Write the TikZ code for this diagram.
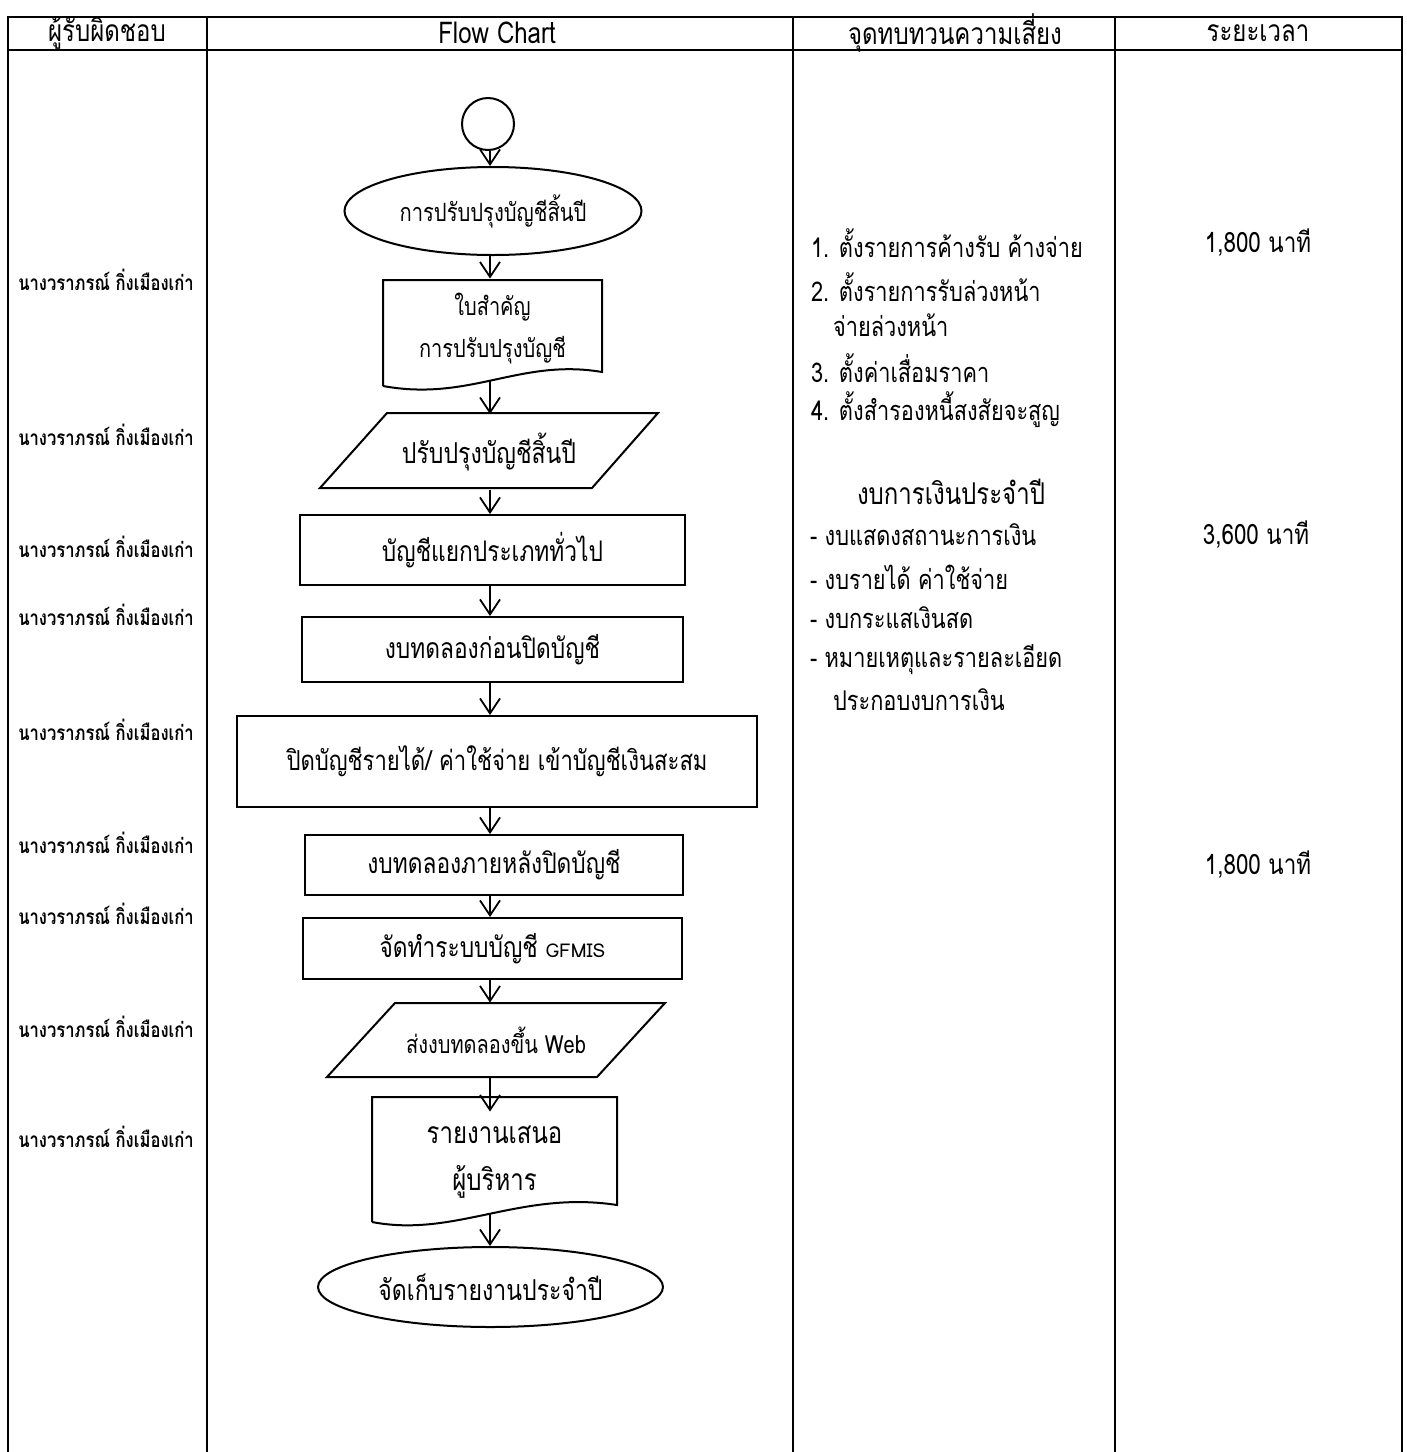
\documentclass[tikz,border=0pt]{standalone}
\usepackage{fontspec}
\setmainfont[Script=Thai,FakeStretch=0.8]{Loma}
\newfontfamily\plainfont[Script=Thai]{Loma}
\usetikzlibrary{arrows.meta,shapes.geometric}
\begin{document}
\begin{tikzpicture}[x=0.5pt,y=-0.5pt,
  tbl/.style={line width=1.2pt},
  shp/.style={draw,line width=1pt},
  procbox/.style={shp,rectangle,inner sep=0pt,font=\fontsize{14.2}{17}\selectfont},
  hidden/.style={rectangle,inner sep=0pt,align=center},
  arr/.style={line width=0.9pt,-{Straight Barb[length=7.5pt,width=10pt,line width=0.9pt]}},
  who/.style={font=\bfseries\fontsize{10.4}{12}\selectfont},
  hdr/.style={font=\fontsize{15}{18}\selectfont},
  risk/.style={anchor=west,font=\fontsize{13.6}{16}\selectfont},
  tim/.style={font=\fontsize{14}{17}\selectfont}
]
\useasboundingbox (0,0) rectangle (1407,1452);
% table
\draw[tbl] (8,1452) -- (8,17) -- (1402,17) -- (1402,1452);
\draw[tbl] (8,50) -- (1402,50);
\draw[tbl] (207,17) -- (207,1452);
\draw[tbl] (793,17) -- (793,1452);
\draw[tbl] (1115,17) -- (1115,1452);
% headers
\node[hdr] (h1) at (107,33) {ผู้รับผิดชอบ};
\node[hdr] (h2) at (497,33) {Flow Chart};
\node[hdr] (h3) at (955,33) {จุดทบทวนความเสี่ยง};
\node[hdr] (h4) at (1258,33) {ระยะเวลา};
% responsible
\foreach \yy [count=\i] in {280,435,547,615,730,843,914,1027,1137}
  \node[who] (w\i) at (106,\yy) {นางวราภรณ์ กิ่งเมืองเก่า};
% axis
\coordinate (ax) at (490,0);
% start
\node[shp,circle,minimum size=26pt,inner sep=0pt] (start) at (488,124) {};
\node[shp,ellipse,minimum width=148.5pt,minimum height=44pt,inner sep=0pt,font=\fontsize{12.6}{15}\selectfont] (e1) at (493,211) {การปรับปรุงบัญชีสิ้นปี};
% document 1
\node[hidden,minimum width=109.5pt,minimum height=50pt,font=\fontsize{12.5}{21}\selectfont] (d1) at (492.5,329) {ใบสำคัญ\\การปรับปรุงบัญชี};
\draw[shp] (383,386) -- (383,280) -- (602,280) -- (602,372) .. controls (520,358) and (470,402) .. (383,386);
\coordinate (d1b) at (490,381);
% parallelogram 1
\node[hidden,minimum width=169pt,minimum height=37.5pt,font=\fontsize{14.4}{17}\selectfont] (p1) at (489,452) {ปรับปรุงบัญชีสิ้นปี};
\draw[shp] (387,413) -- (658,413) -- (592,488) -- (320,488) -- cycle;
% boxes
\node[procbox,minimum width=192.5pt,minimum height=35pt] (b1) at (492.5,550) {บัญชีแยกประเภททั่วไป};
\node[procbox,minimum width=190.5pt,minimum height=32.5pt] (b2) at (492.5,649.5) {งบทดลองก่อนปิดบัญชี};
\node[procbox,font=\fontsize{13.8}{17}\selectfont,minimum width=260pt,minimum height=45.5pt] (b3) at (497,761.5) {ปิดบัญชีรายได้/ ค่าใช้จ่าย เข้าบัญชีเงินสะสม};
\node[procbox,minimum width=189pt,minimum height=30pt] (b4) at (494,865) {งบทดลองภายหลังปิดบัญชี};
\node[procbox,minimum width=189.5pt,minimum height=30.5pt] (b5) at (492.5,948.5) {จัดทำระบบบัญชี {\plainfont\fontsize{9.5}{11}\selectfont GFMIS}};
% parallelogram 2
\node[hidden,minimum width=169pt,minimum height=37pt,font=\fontsize{12.5}{15}\selectfont] (p2) at (496,1040) {ส่งงบทดลองขึ้น Web};
\draw[shp] (395,1003) -- (665,1003) -- (597,1077) -- (327,1077) -- cycle;
% document 2
\node[hidden,minimum width=122.5pt,minimum height=50pt,font=\fontsize{15}{23.5}\selectfont] (d2) at (494.5,1162) {รายงานเสนอ\\ผู้บริหาร};
\draw[shp] (372,1222) -- (372,1097) -- (617,1097) -- (617,1205) .. controls (520,1190) and (455,1238) .. (372,1222);
\coordinate (d2b) at (490,1214);
% end
\node[shp,ellipse,minimum width=172.5pt,minimum height=40pt,inner sep=0pt,font=\fontsize{14.4}{17}\selectfont] (e2) at (490.5,1287) {จัดเก็บรายงานประจำปี};
% arrows
\draw[arr] (start.south -| ax) -- (e1.north -| ax);
\draw[arr] (e1.south -| ax) -- (d1.north -| ax);
\draw[arr] (d1b) -- (p1.north -| ax);
\draw[arr] (p1.south -| ax) -- (b1.north -| ax);
\draw[arr] (b1.south -| ax) -- (b2.north -| ax);
\draw[arr] (b2.south -| ax) -- (b3.north -| ax);
\draw[arr] (b3.south -| ax) -- (b4.north -| ax);
\draw[arr] (b4.south -| ax) -- (b5.north -| ax);
\draw[arr] (b5.south -| ax) -- (p2.north -| ax);
\draw[arr] (p2.south -| ax) -- (d2.north -| ax);
\draw[arr] (d2b) -- (e2.north -| ax);
% risk column
\node[risk] (r1) at (804,243) {1. ตั้งรายการค้างรับ ค้างจ่าย};
\node[risk] (r2) at (804,287) {2. ตั้งรายการรับล่วงหน้า};
\node[risk] (r3) at (826,325) {จ่ายล่วงหน้า};
\node[risk] (r4) at (804,368) {3. ตั้งค่าเสื่อมราคา};
\node[risk] (r5) at (804,410) {4. ตั้งสำรองหนี้สงสัยจะสูญ};
\node[font=\fontsize{15}{18}\selectfont] (r6) at (951,492) {งบการเงินประจำปี};
\node[risk] (r7) at (803,535) {- งบแสดงสถานะการเงิน};
\node[risk] (r8) at (803,577) {- งบรายได้ ค่าใช้จ่าย};
\node[risk] (r9) at (803,618) {- งบกระแสเงินสด};
\node[risk] (r10) at (803,660) {- หมายเหตุและรายละเอียด};
\node[risk] (r11) at (826,700) {ประกอบงบการเงิน};
% time column
\node[tim] (t1) at (1258,243) {1,800 นาที};
\node[tim] (t2) at (1256,535) {3,600 นาที};
\node[tim] (t3) at (1258,865) {1,800 นาที};
\end{tikzpicture}
\end{document}
